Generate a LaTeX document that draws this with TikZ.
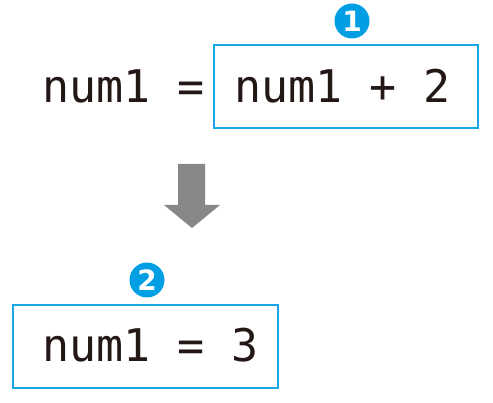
\documentclass[tikz,border=0pt]{standalone}
\usepackage{fontspec}
\setmonofont{DejaVu Sans Mono}
\setsansfont{DejaVu Sans}
\definecolor{kblue}{HTML}{1AA6E4}
\definecolor{cblue}{HTML}{009FE3}
\definecolor{agray}{HTML}{878787}
\definecolor{ink}{HTML}{231815}
\tikzset{
  code/.style={font=\fontsize{45}{45}\selectfont\ttfamily, text=ink, inner sep=0pt, anchor=base west},
  codebox/.style={draw=kblue, line width=2pt},
  badge/.style={circle, fill=cblue, text=white, minimum size=35pt, inner sep=0pt, font=\fontsize{28}{28}\selectfont\sffamily\bfseries}
}
\begin{document}
\begin{tikzpicture}[x=1pt,y=-1pt]
\useasboundingbox (0,0) rectangle (493,403);
% top line
\node[code] (lhs) at (42,103) {num1 =};
\node[code] (rhs) at (234,103) {num1 + 2};
\draw[codebox] (214,45) rectangle (478,128);
\coordinate (b1) at (214,45);
\node[badge] (n1) at (352,21) {1};
% arrow
\fill[agray] (178,164) -- (205,164) -- (205,205) -- (220,205) -- (192,228) -- (164,205) -- (178,205) -- cycle;
% bottom
\draw[codebox] (13,305) rectangle (278,388);
\node[code] (res) at (42,362) {num1 = 3};
\node[badge] (n2) at (147,280) {2};
\end{tikzpicture}
\end{document}
